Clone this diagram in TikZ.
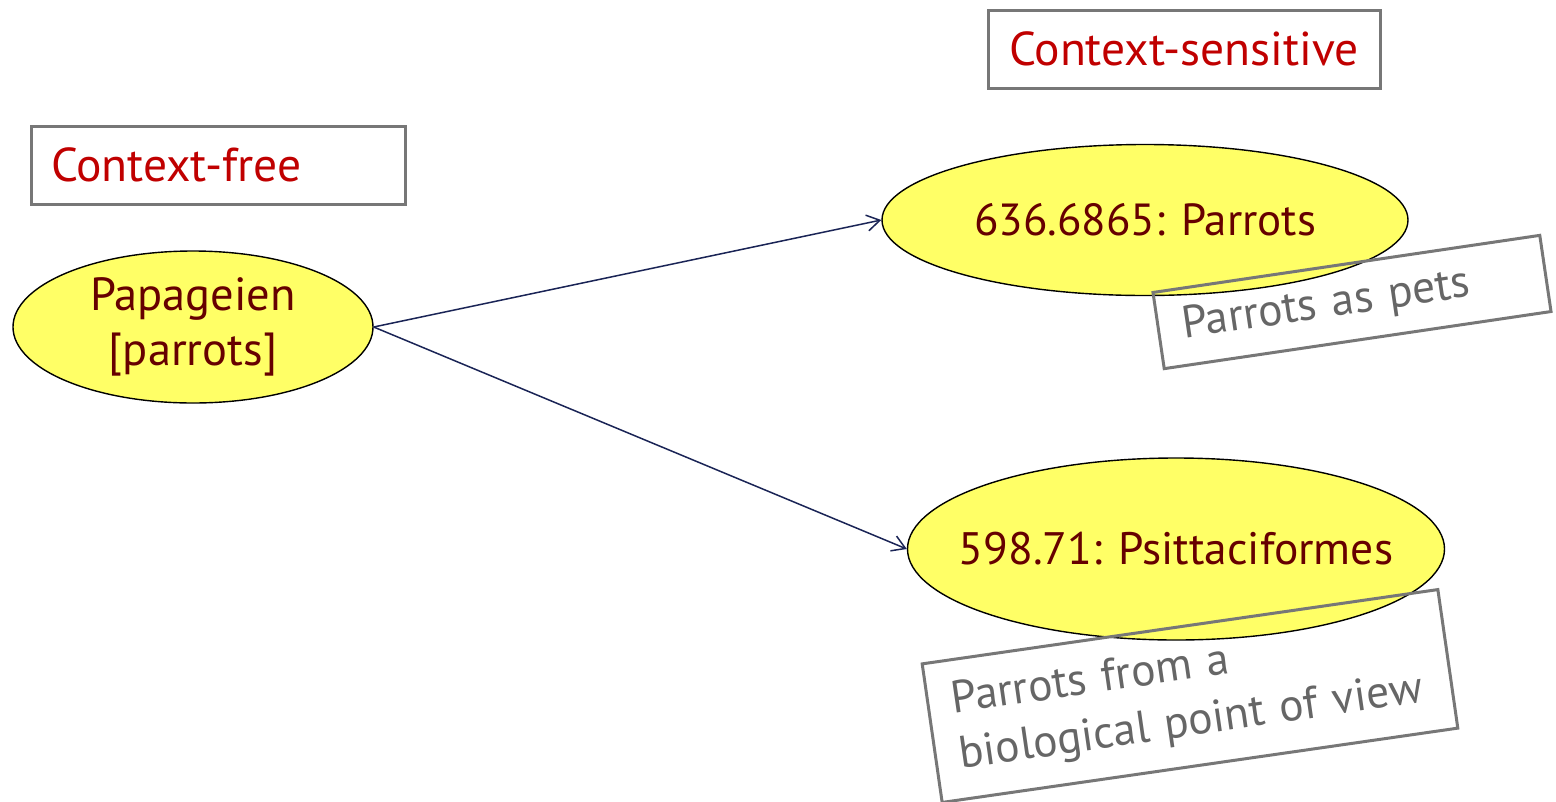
\documentclass[tikz,border=0pt]{standalone}
\usepackage{fontspec}
\setmainfont{PT Sans}
\usetikzlibrary{shapes.geometric,arrows.meta}
\definecolor{titlered}{HTML}{C00000}
\definecolor{classtext}{HTML}{660000}
\definecolor{notegray}{HTML}{666666}
\definecolor{framegray}{HTML}{777777}
\definecolor{classfill}{HTML}{FFFF66}
\definecolor{linknavy}{HTML}{1A2456}
\tikzset{
  titlebox/.style={draw=framegray, line width=3pt, text=titlered,
    font=\fontsize{47.5}{54}\selectfont, minimum height=78pt, inner xsep=20pt},
  classnode/.style={ellipse, draw=black, line width=1.4pt, fill=classfill,
    text=classtext, inner sep=0pt, align=center,
    font=\fontsize{46.5}{55}\selectfont},
  notebox/.style={draw=framegray, line width=3pt, text=notegray,
    font=\fontsize{45.5}{56}\selectfont, align=left, inner xsep=24pt},
  link/.style={draw=linknavy, line width=1.5pt,
    -{Straight Barb[length=13pt,width=16pt,line width=1.5pt]}}
}
\begin{document}
\begin{tikzpicture}[x=1pt,y=-1pt]
\useasboundingbox (0,0) rectangle (1556,801);

% headings
\node[titlebox, minimum width=374pt, text width=334pt, align=left]
  (free) at (218,165) {Context-free};
\node[titlebox, minimum width=392pt, align=center]
  (sens) at (1184,49) {Context-sensitive};

% classes (labels boxed at zero width so the ellipses keep their size)
\node[classnode, minimum width=360pt, minimum height=152pt]
  (pap) at (193,327) {Papageien\\{}[parrots]};
\node[classnode, minimum width=526pt, minimum height=151pt, font=\fontsize{45}{48}\selectfont]
  (pets) at (1145,220) {\makebox[0pt]{636.6865: Parrots}};
\node[classnode, minimum width=537pt, minimum height=182pt, font=\fontsize{45.5}{48}\selectfont]
  (bio) at (1176,549) {\makebox[0pt]{598.71: Psittaciformes}};

% links
\draw[link] (pap.east) -- (pets.west);
\draw[link] (pap.east) -- (bio.west);

% tilted notes
\node[notebox, rotate=8.4, minimum width=391pt, minimum height=77pt, text width=343pt, inner xsep=22pt]
  (petsnote) at (1352,302) {Parrots as pets};
\node[notebox, rotate=8.2, minimum width=521pt, minimum height=140pt, text width=473pt]
  (bionote) at (1190,696) {Parrots from a\\biological point of view};
\end{tikzpicture}
\end{document}
